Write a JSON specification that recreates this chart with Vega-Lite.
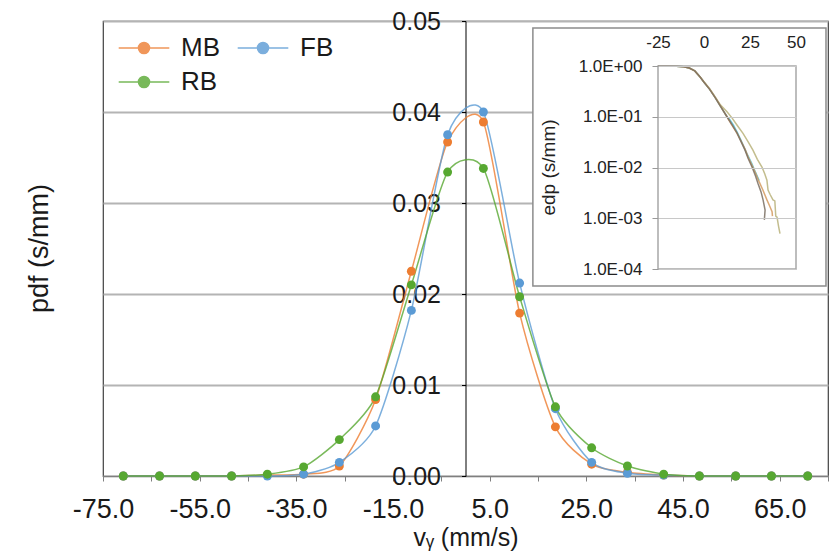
{
  "$schema": "https://vega.github.io/schema/vega-lite/v6.json",
  "width": 725,
  "height": 455,
  "autosize": {"type": "none"},
  "padding": {"left": 103, "top": 21, "right": 5, "bottom": 80},
  "background": "white",
  "config": {
    "font": "Liberation Sans",
    "view": {"stroke": "#404040", "strokeWidth": 1.2}
  },
  "datasets": {
    "pdf": [
      {"series": "MB", "v": -70.8, "pdf": 0},
      {"series": "MB", "v": -63.3, "pdf": 0},
      {"series": "MB", "v": -55.9, "pdf": 0},
      {"series": "MB", "v": -48.4, "pdf": 0},
      {"series": "MB", "v": -41.0, "pdf": 0.0001},
      {"series": "MB", "v": -33.5, "pdf": 0.0002},
      {"series": "MB", "v": -26.1, "pdf": 0.0011},
      {"series": "MB", "v": -18.6, "pdf": 0.0084},
      {"series": "MB", "v": -11.2, "pdf": 0.0225},
      {"series": "MB", "v": -3.7, "pdf": 0.0367},
      {"series": "MB", "v": 3.7, "pdf": 0.0389},
      {"series": "MB", "v": 11.2, "pdf": 0.0179},
      {"series": "MB", "v": 18.6, "pdf": 0.0054},
      {"series": "MB", "v": 26.1, "pdf": 0.0013},
      {"series": "MB", "v": 33.5, "pdf": 0.0004},
      {"series": "MB", "v": 41.0, "pdf": 0.0001},
      {"series": "MB", "v": 48.4, "pdf": 0},
      {"series": "MB", "v": 55.9, "pdf": 0},
      {"series": "MB", "v": 63.3, "pdf": 0},
      {"series": "MB", "v": 70.8, "pdf": 0},
      {"series": "FB", "v": -70.8, "pdf": 0},
      {"series": "FB", "v": -63.3, "pdf": 0},
      {"series": "FB", "v": -55.9, "pdf": 0},
      {"series": "FB", "v": -48.4, "pdf": 0},
      {"series": "FB", "v": -41.0, "pdf": 0},
      {"series": "FB", "v": -33.5, "pdf": 0.0002},
      {"series": "FB", "v": -26.1, "pdf": 0.0015},
      {"series": "FB", "v": -18.6, "pdf": 0.0055},
      {"series": "FB", "v": -11.2, "pdf": 0.0182},
      {"series": "FB", "v": -3.7, "pdf": 0.0375},
      {"series": "FB", "v": 3.7, "pdf": 0.04},
      {"series": "FB", "v": 11.2, "pdf": 0.0212},
      {"series": "FB", "v": 18.6, "pdf": 0.0074},
      {"series": "FB", "v": 26.1, "pdf": 0.0015},
      {"series": "FB", "v": 33.5, "pdf": 0.0003},
      {"series": "FB", "v": 41.0, "pdf": 0.0001},
      {"series": "FB", "v": 48.4, "pdf": 0},
      {"series": "FB", "v": 55.9, "pdf": 0},
      {"series": "FB", "v": 63.3, "pdf": 0},
      {"series": "FB", "v": 70.8, "pdf": 0},
      {"series": "RB", "v": -70.8, "pdf": 0},
      {"series": "RB", "v": -63.3, "pdf": 0},
      {"series": "RB", "v": -55.9, "pdf": 0},
      {"series": "RB", "v": -48.4, "pdf": 0},
      {"series": "RB", "v": -41.0, "pdf": 0.0002},
      {"series": "RB", "v": -33.5, "pdf": 0.001},
      {"series": "RB", "v": -26.1, "pdf": 0.004},
      {"series": "RB", "v": -18.6, "pdf": 0.0087},
      {"series": "RB", "v": -11.2, "pdf": 0.021},
      {"series": "RB", "v": -3.7, "pdf": 0.0334},
      {"series": "RB", "v": 3.7, "pdf": 0.0338},
      {"series": "RB", "v": 11.2, "pdf": 0.0197},
      {"series": "RB", "v": 18.6, "pdf": 0.0076},
      {"series": "RB", "v": 26.1, "pdf": 0.0031},
      {"series": "RB", "v": 33.5, "pdf": 0.0011},
      {"series": "RB", "v": 41.0, "pdf": 0.0002},
      {"series": "RB", "v": 48.4, "pdf": 0},
      {"series": "RB", "v": 55.9, "pdf": 0},
      {"series": "RB", "v": 63.3, "pdf": 0},
      {"series": "RB", "v": 70.8, "pdf": 0}
    ],
    "edp": [
      {"s": "C", "i": 1, "x": -25, "p": 1.0},
      {"s": "C", "i": 2, "x": -20, "p": 0.998},
      {"s": "C", "i": 3, "x": -15, "p": 0.99},
      {"s": "C", "i": 4, "x": -11, "p": 0.965},
      {"s": "C", "i": 5, "x": -8, "p": 0.91},
      {"s": "C", "i": 6, "x": -5, "p": 0.8},
      {"s": "C", "i": 7, "x": -2, "p": 0.6},
      {"s": "C", "i": 8, "x": 0, "p": 0.48},
      {"s": "C", "i": 9, "x": 3, "p": 0.35},
      {"s": "C", "i": 10, "x": 6, "p": 0.24},
      {"s": "C", "i": 11, "x": 9, "p": 0.16},
      {"s": "C", "i": 12, "x": 12.5, "p": 0.1},
      {"s": "C", "i": 13, "x": 14, "p": 0.088},
      {"s": "C", "i": 14, "x": 16, "p": 0.068},
      {"s": "C", "i": 15, "x": 18, "p": 0.05},
      {"s": "C", "i": 16, "x": 20, "p": 0.035},
      {"s": "C", "i": 17, "x": 23, "p": 0.02},
      {"s": "C", "i": 18, "x": 26, "p": 0.012},
      {"s": "C", "i": 19, "x": 28, "p": 0.008},
      {"s": "C", "i": 20, "x": 30, "p": 0.0055},
      {"s": "D", "i": 1, "x": -25, "p": 1.0},
      {"s": "D", "i": 2, "x": -20, "p": 0.998},
      {"s": "D", "i": 3, "x": -15, "p": 0.99},
      {"s": "D", "i": 4, "x": -11, "p": 0.965},
      {"s": "D", "i": 5, "x": -8, "p": 0.91},
      {"s": "D", "i": 6, "x": -5, "p": 0.8},
      {"s": "D", "i": 7, "x": -2, "p": 0.6},
      {"s": "D", "i": 8, "x": 0, "p": 0.49},
      {"s": "D", "i": 9, "x": 3, "p": 0.36},
      {"s": "D", "i": 10, "x": 6, "p": 0.25},
      {"s": "D", "i": 11, "x": 9, "p": 0.17},
      {"s": "D", "i": 12, "x": 12.5, "p": 0.125},
      {"s": "D", "i": 13, "x": 15.2, "p": 0.095},
      {"s": "D", "i": 14, "x": 18, "p": 0.068},
      {"s": "D", "i": 15, "x": 21.2, "p": 0.047},
      {"s": "D", "i": 16, "x": 24, "p": 0.032},
      {"s": "D", "i": 17, "x": 26.6, "p": 0.022},
      {"s": "D", "i": 18, "x": 29, "p": 0.0145},
      {"s": "D", "i": 19, "x": 31.5, "p": 0.0102},
      {"s": "D", "i": 20, "x": 33, "p": 0.0075},
      {"s": "D", "i": 21, "x": 34.2, "p": 0.0056},
      {"s": "D", "i": 22, "x": 34.8, "p": 0.0036},
      {"s": "D", "i": 23, "x": 36, "p": 0.0029},
      {"s": "D", "i": 24, "x": 37.5, "p": 0.0023},
      {"s": "D", "i": 25, "x": 38.5, "p": 0.0022},
      {"s": "D", "i": 26, "x": 39, "p": 0.0011},
      {"s": "D", "i": 27, "x": 39.7, "p": 0.00105},
      {"s": "D", "i": 28, "x": 40.5, "p": 0.0007},
      {"s": "D", "i": 29, "x": 41.3, "p": 0.0005},
      {"s": "B", "i": 1, "x": -25, "p": 1.0},
      {"s": "B", "i": 2, "x": -20, "p": 0.998},
      {"s": "B", "i": 3, "x": -15, "p": 0.99},
      {"s": "B", "i": 4, "x": -11, "p": 0.965},
      {"s": "B", "i": 5, "x": -8, "p": 0.91},
      {"s": "B", "i": 6, "x": -5, "p": 0.8},
      {"s": "B", "i": 7, "x": -2, "p": 0.6},
      {"s": "B", "i": 8, "x": 0, "p": 0.48},
      {"s": "B", "i": 9, "x": 3, "p": 0.35},
      {"s": "B", "i": 10, "x": 6, "p": 0.24},
      {"s": "B", "i": 11, "x": 9, "p": 0.16},
      {"s": "B", "i": 12, "x": 12.5, "p": 0.1},
      {"s": "B", "i": 13, "x": 15, "p": 0.07},
      {"s": "B", "i": 14, "x": 18, "p": 0.047},
      {"s": "B", "i": 15, "x": 20, "p": 0.034},
      {"s": "B", "i": 16, "x": 22.3, "p": 0.023},
      {"s": "B", "i": 17, "x": 24, "p": 0.016},
      {"s": "B", "i": 18, "x": 26.1, "p": 0.011},
      {"s": "B", "i": 19, "x": 28, "p": 0.0078},
      {"s": "B", "i": 20, "x": 30, "p": 0.0052},
      {"s": "B", "i": 21, "x": 32, "p": 0.0036},
      {"s": "B", "i": 22, "x": 34.2, "p": 0.0023},
      {"s": "B", "i": 23, "x": 35.5, "p": 0.0018},
      {"s": "B", "i": 24, "x": 37, "p": 0.00135},
      {"s": "B", "i": 25, "x": 37.2, "p": 0.0011},
      {"s": "A", "i": 1, "x": -25, "p": 1.0},
      {"s": "A", "i": 2, "x": -20, "p": 0.998},
      {"s": "A", "i": 3, "x": -15, "p": 0.99},
      {"s": "A", "i": 4, "x": -11, "p": 0.965},
      {"s": "A", "i": 5, "x": -8, "p": 0.91},
      {"s": "A", "i": 6, "x": -5, "p": 0.8},
      {"s": "A", "i": 7, "x": -2, "p": 0.6},
      {"s": "A", "i": 8, "x": 0, "p": 0.48},
      {"s": "A", "i": 9, "x": 3, "p": 0.35},
      {"s": "A", "i": 10, "x": 6, "p": 0.24},
      {"s": "A", "i": 11, "x": 9, "p": 0.16},
      {"s": "A", "i": 12, "x": 12.5, "p": 0.1},
      {"s": "A", "i": 13, "x": 15, "p": 0.072},
      {"s": "A", "i": 14, "x": 17.9, "p": 0.048},
      {"s": "A", "i": 15, "x": 20, "p": 0.033},
      {"s": "A", "i": 16, "x": 22.3, "p": 0.022},
      {"s": "A", "i": 17, "x": 24, "p": 0.015},
      {"s": "A", "i": 18, "x": 26.1, "p": 0.0102},
      {"s": "A", "i": 19, "x": 28, "p": 0.0068},
      {"s": "A", "i": 20, "x": 29.3, "p": 0.0049},
      {"s": "A", "i": 21, "x": 31, "p": 0.0033},
      {"s": "A", "i": 22, "x": 32.1, "p": 0.0023},
      {"s": "A", "i": 23, "x": 33.2, "p": 0.00145},
      {"s": "A", "i": 24, "x": 32.8, "p": 0.00093}
    ]
  },
  "layer": [
    {
      "data": {"name": "pdf"},
      "encoding": {
        "x": {
          "field": "v",
          "type": "quantitative",
          "scale": {"domain": [-75, 75], "nice": false, "zero": false},
          "axis": {
            "values": [-75, -65, -55, -45, -35, -25, -15, -5, 5, 15, 25, 35, 45, 55, 65, 75],
            "labelExpr": "(datum.value + 75) % 20 === 0 ? replace(format(datum.value, '.1f'), '\u2212', '-') : ''",
            "title": "v\u1d67 (mm/s)",
            "grid": false,
            "domainColor": "#7f7f7f",
            "tickColor": "#7f7f7f",
            "tickSize": 5,
            "labelFontSize": 27,
            "labelColor": "#1a1a1a",
            "labelPadding": 15,
            "labelFlush": false,
            "labelOverlap": false,
            "titleFontSize": 25,
            "titleFontWeight": "normal",
            "titleColor": "#1a1a1a",
            "titlePadding": 3
          }
        },
        "y": {
          "field": "pdf",
          "type": "quantitative",
          "scale": {"domain": [0, 0.05], "nice": false, "zero": true},
          "axis": {
            "values": [0, 0.01, 0.02, 0.03, 0.04, 0.05],
            "format": ".2f",
            "offset": -362.5,
            "title": "pdf (s/mm)",
            "titleX": -426,
            "titleY": 227,
            "titleAngle": -90,
            "titleBaseline": "middle",
            "titleAlign": "center",
            "titleFontSize": 27,
            "titleFontWeight": "normal",
            "titleColor": "#1a1a1a",
            "grid": true,
            "gridColor": "#b4b4b4",
            "gridWidth": 1.8,
            "domainColor": "#000000",
            "tickColor": "#000000",
            "tickSize": 4,
            "labelFontSize": 25,
            "labelPadding": 21,
            "labelColor": "#1a1a1a"
          }
        },
        "color": {
          "field": "series",
          "type": "nominal",
          "scale": {"domain": ["MB", "FB", "RB"], "range": ["#ED7D31", "#5B9BD5", "#57A831"]},
          "legend": {
            "title": null,
            "orient": "none",
            "legendX": 24,
            "legendY": 10,
            "direction": "horizontal",
            "columns": 2,
            "symbolType": "M-1.6,0L1.6,0M-0.35,0A0.35,0.35 0 1,0 0.35,0A0.35,0.35 0 1,0 -0.35,0Z",
            "symbolSize": 1000,
            "symbolStrokeWidth": 1.5,
            "labelFontSize": 26,
            "labelColor": "#1a1a1a",
            "labelOffset": 20,
            "columnPadding": 14,
            "rowPadding": 4
          }
        }
      },
      "layer": [
        {"mark": {"type": "line", "interpolate": "cardinal", "tension": 0.3, "strokeWidth": 1.5, "opacity": 0.8}},
        {"mark": {"type": "point", "filled": true, "size": 80, "opacity": 1}}
      ]
    },
    {
      "layer": [
        {
          "data": {"values": [{}]},
          "mark": {"type": "rect", "fill": "white", "stroke": "#8c8c8c", "strokeWidth": 1.5},
          "encoding": {
            "x": {"datum": -93, "type": "quantitative", "scale": {"domain": [-25, 50], "range": [555, 693], "nice": false, "zero": false}},
            "x2": {"datum": 66.3},
            "y": {"datum": 0.000046, "type": "quantitative", "scale": {"type": "log", "domain": [0.0001, 1], "range": [248, 45], "nice": false}},
            "y2": {"datum": 5.6}
          }
        },
        {
          "data": {"name": "edp"},
          "mark": {"type": "line", "strokeWidth": 1.5, "opacity": 0.85},
          "encoding": {
            "x": {
              "field": "x",
              "type": "quantitative",
              "scale": {"domain": [-25, 50], "range": [555, 693], "nice": false, "zero": false},
              "axis": {
                "orient": "top",
                "offset": -45,
                "values": [-25, 0, 25, 50],
                "labelExpr": "replace(format(datum.value, 'd'), '\u2212', '-')",
                "title": null,
                "grid": false,
                "domain": false,
                "ticks": false,
                "labelPadding": 15,
                "labelFontSize": 17,
                "labelColor": "#222222",
                "labelFlush": false,
                "zindex": 1
              }
            },
            "y": {
              "field": "p",
              "type": "quantitative",
              "scale": {"type": "log", "domain": [0.0001, 1], "range": [248, 45], "nice": false},
              "axis": {
                "orient": "left",
                "offset": -555,
                "values": [0.0001, 0.001, 0.01, 0.1, 1],
                "labelExpr": "datum.value >= 1 ? '1.0E+00' : '1.0E-0' + round(-log(datum.value) / LN10)",
                "title": "edp (s/mm)",
                "titleX": -110,
                "titleY": 146,
                "titleAngle": -90,
                "titleBaseline": "middle",
                "titleAlign": "center",
                "titleFontSize": 19,
                "titleFontWeight": "normal",
                "titleColor": "#222222",
                "labelFontSize": 17,
                "labelPadding": 10,
                "labelColor": "#222222",
                "tickSize": 6,
                "tickColor": "#999999",
                "domain": false,
                "grid": true,
                "gridColor": "#c8c8c8",
                "gridWidth": 1.2,
                "zindex": 1
              }
            },
            "color": {
              "field": "s",
              "type": "nominal",
              "scale": {"domain": ["C", "D", "B", "A"], "range": ["#4fc3dc", "#b9b27a", "#d39a5e", "#7a6e62"]},
              "legend": null
            },
            "order": {"field": "i", "type": "quantitative"}
          }
        },
        {
          "data": {"values": [{}]},
          "mark": {"type": "rect", "fill": "transparent", "stroke": "#a8a8a8", "strokeWidth": 1.5},
          "encoding": {
            "x": {"datum": -25, "type": "quantitative", "scale": {"domain": [-25, 50], "range": [555, 693], "nice": false, "zero": false}},
            "x2": {"datum": 50},
            "y": {"datum": 0.0001, "type": "quantitative", "scale": {"type": "log", "domain": [0.0001, 1], "range": [248, 45], "nice": false}},
            "y2": {"datum": 1}
          }
        }
      ]
    }
  ],
  "resolve": {
    "scale": {"x": "independent", "y": "independent", "color": "independent"},
    "axis": {"x": "independent", "y": "independent"},
    "legend": {"color": "independent"}
  }
}
